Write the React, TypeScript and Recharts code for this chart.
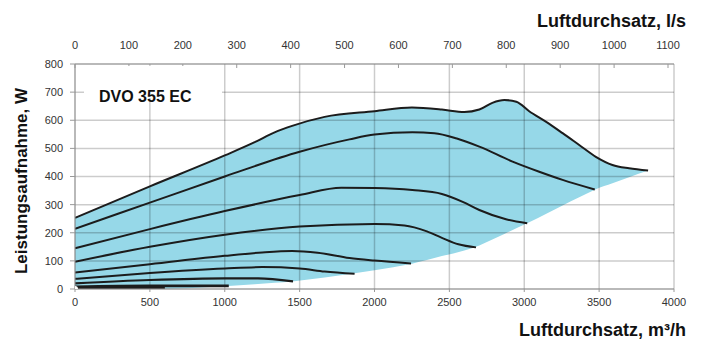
import React from 'react';
import { ComposedChart, Line, Area, XAxis, YAxis, ReferenceLine } from 'recharts';

// axis ticks
const flowTicks = [0, 500, 1000, 1500, 2000, 2500, 3000, 3500, 4000];
const litreTicks = [0, 100, 200, 300, 400, 500, 600, 700, 800, 900, 1000, 1100];
const powerTicks = [0, 100, 200, 300, 400, 500, 600, 700, 800];

// shaded working range (top = max speed curve, bottom = system limit)
const envelopeFlow = [0, 500, 1000, 1200, 1333, 1450, 1667, 2000, 2250, 2450, 2600, 2700, 2787, 2867, 2947, 3033, 3144, 3256, 3367, 3478, 3589, 3700, 3827];
const envelopeTop = [253, 365, 475, 522, 557, 580, 612, 632, 645, 638, 629, 638, 662, 672, 666, 632, 595, 554, 512, 470, 441, 429, 421];
const envelopeBottom = [0, 0, 10, 17, 22, 27, 41, 67, 90, 117, 137, 155, 176, 196, 216, 237, 267, 297, 326, 355, 376, 397, 421];

// fan curves at lower control voltages
const curve2Flow = [0, 500, 1000, 1500, 1833, 2000, 2253, 2400, 2550, 2700, 2922, 3100, 3256, 3471];
const curve2Power = [214, 307, 400, 488, 532, 549, 557, 554, 535, 506, 453, 417, 388, 354];
const curve3Flow = [0, 500, 1000, 1500, 1778, 2000, 2253, 2450, 2589, 2700, 2878, 3020];
const curve3Power = [145, 213, 277, 334, 360, 359, 352, 338, 310, 281, 248, 234];
const curve4Flow = [0, 500, 1000, 1500, 2000, 2200, 2350, 2450, 2560, 2678];
const curve4Power = [97, 150, 193, 222, 231, 226, 205, 182, 159, 148];
const curve5Flow = [0, 500, 1000, 1250, 1450, 1620, 1833, 2000, 2244];
const curve5Power = [59, 88, 118, 130, 135, 129, 110, 101, 91];
const curve6Flow = [0, 500, 1000, 1250, 1500, 1667, 1867];
const curve6Power = [36, 57, 73, 78, 73, 62, 54];
const curve7Flow = [0, 500, 1000, 1222, 1456];
const curve7Power = [20, 32, 38, 38, 27];
const curve8Flow = [0, 500, 1027];
const curve8Power = [8, 11, 11];
const curve9Flow = [0, 600];
const curve9Power = [3, 3];

const toPoints = (xs: number[], ys: number[]) => xs.map((x, i) => ({ flow: x, power: ys[i] }));

const envelope = envelopeFlow.map((x, i) => ({ flow: x, range: [envelopeBottom[i], envelopeTop[i]] }));

const curves = [
  { pts: toPoints(envelopeFlow, envelopeTop), w: 2 },
  { pts: toPoints(curve2Flow, curve2Power), w: 2 },
  { pts: toPoints(curve3Flow, curve3Power), w: 2 },
  { pts: toPoints(curve4Flow, curve4Power), w: 2 },
  { pts: toPoints(curve5Flow, curve5Power), w: 2 },
  { pts: toPoints(curve6Flow, curve6Power), w: 2 },
  { pts: toPoints(curve7Flow, curve7Power), w: 2.2 },
  { pts: toPoints(curve8Flow, curve8Power), w: 2.6 },
  { pts: toPoints(curve9Flow, curve9Power), w: 3 },
];

// only used so the l/s axis gets drawn
const litreAxisAnchor = [{ flow: 0, power: 0 }];

const tickStyle = { fill: '#333', fontSize: 11, fontFamily: 'Liberation Sans, Arial, sans-serif' };
const gridColor = 'rgba(0,0,0,0.2)';
const font = 'Liberation Sans, Arial, sans-serif';

export default function App() {
  return (
    <div style={{ position: 'absolute', left: 0, top: 0, width: 704, height: 345, background: '#fff' }}>
      <ComposedChart width={704} height={345} margin={{ top: 34, right: 30, bottom: 36, left: 30 }}>
        <XAxis
          xAxisId="m3h"
          dataKey="flow"
          type="number"
          domain={[0, 4000]}
          ticks={flowTicks}
          height={20}
          tick={tickStyle}
          tickSize={3}
          tickMargin={6}
          stroke="#999"
          allowDataOverflow
        />
        <XAxis
          xAxisId="ls"
          dataKey="flow"
          orientation="top"
          type="number"
          domain={[0, 4000 / 3.6]}
          ticks={litreTicks}
          height={30}
          tick={tickStyle}
          tickSize={-4}
          tickMargin={19}
          stroke="#999"
          allowDataOverflow
        />
        <YAxis
          type="number"
          domain={[0, 800]}
          ticks={powerTicks}
          width={45}
          tick={tickStyle}
          tickSize={5}
          tickMargin={7}
          stroke="#999"
          allowDataOverflow
        />
        <Area
          xAxisId="m3h"
          data={envelope}
          dataKey="range"
          type="monotone"
          stroke="none"
          fill="#96d8e8"
          fillOpacity={1}
          isAnimationActive={false}
        />
        {flowTicks.map(v => (
          <ReferenceLine key={'v' + v} xAxisId="m3h" x={v} stroke={gridColor} strokeWidth={1.5} />
        ))}
        {powerTicks.map(v => (
          <ReferenceLine key={'h' + v} xAxisId="m3h" y={v} stroke={gridColor} strokeWidth={1.5} />
        ))}
        <Line
          xAxisId="ls"
          data={litreAxisAnchor}
          dataKey="power"
          stroke="none"
          dot={false}
          activeDot={false}
          isAnimationActive={false}
        />
        {curves.map((c, i) => (
          <Line
            key={i}
            xAxisId="m3h"
            data={c.pts}
            dataKey="power"
            type="monotone"
            stroke="#1c1c1c"
            strokeWidth={c.w}
            dot={false}
            activeDot={false}
            isAnimationActive={false}
          />
        ))}
      </ComposedChart>
      <svg width={704} height={345} style={{ position: 'absolute', left: 0, top: 0, pointerEvents: 'none' }}>
        <rect x={84} y={66} width={138} height={32} fill="#fff" />
        <text x={99} y={102} fontFamily={font} fontWeight="bold" fontSize={16} fill="#111">DVO 355 EC</text>
        <text x={686} y={27} textAnchor="end" fontFamily={font} fontWeight="bold" fontSize={18} fill="#111">Luftdurchsatz, l/s</text>
        <text x={686} y={336} textAnchor="end" fontFamily={font} fontWeight="bold" fontSize={18} fill="#111">Luftdurchsatz, m³/h</text>
        <text
          x={27}
          y={181}
          textAnchor="middle"
          transform="rotate(-90 27 181)"
          fontFamily={font}
          fontWeight="bold"
          fontSize={17}
          fill="#111"
        >
          Leistungsaufnahme, W
        </text>
      </svg>
    </div>
  );
}
